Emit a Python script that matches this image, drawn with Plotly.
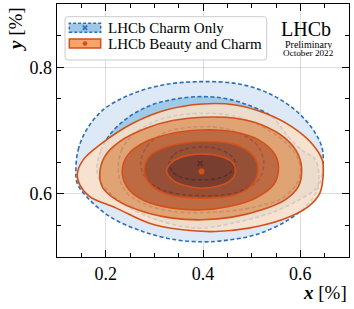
import plotly.graph_objects as go

# ---------------- data (x [%], y [%]) ----------------
# LHCb Charm Only contours (outer -> inner)
b1_x = [0.1388,0.1435,0.1606,0.1945,0.2490,0.3170,0.3986,0.4735,0.5347,0.5891,0.6265,0.6449,0.6469,0.6422,0.6231,0.5755,0.5075,0.4395,0.3986,0.3442,0.2761,0.2082,0.1606,0.1415,0.1388]
b1_y = [0.6378,0.6694,0.7009,0.7325,0.7562,0.7720,0.7773,0.7736,0.7589,0.7325,0.7009,0.6720,0.6483,0.6220,0.5904,0.5588,0.5351,0.5256,0.5240,0.5272,0.5403,0.5640,0.5956,0.6167,0.6378]
b2_x = [0.182,0.190,0.208,0.245,0.293,0.345,0.400,0.450,0.497,0.5415,0.5755,0.605,0.630,0.638,0.634,0.610,0.5475,0.4755,0.400,0.361,0.300,0.2388,0.200,0.185,0.182]
b2_y = [0.643,0.668,0.693,0.720,0.740,0.750,0.7536,0.750,0.739,0.722,0.690,0.668,0.655,0.630,0.610,0.596,0.572,0.556,0.5457,0.548,0.560,0.5825,0.608,0.625,0.643]
b3_x = [0.226,0.232,0.255,0.300,0.350,0.400,0.450,0.500,0.555,0.588,0.600,0.592,0.560,0.5366,0.4755,0.400,0.340,0.285,0.245,0.230,0.226]
b3_y = [0.640,0.668,0.693,0.714,0.724,0.7273,0.725,0.714,0.690,0.665,0.640,0.615,0.592,0.5851,0.5746,0.5703,0.572,0.582,0.600,0.620,0.640]
b4_x = [0.272,0.285,0.320,0.360,0.400,0.440,0.480,0.512,0.525,0.515,0.480,0.440,0.400,0.355,0.310,0.282,0.272]
b4_y = [0.648,0.675,0.696,0.704,0.706,0.704,0.694,0.676,0.650,0.623,0.605,0.598,0.597,0.599,0.608,0.625,0.648]
b5_x = [0.330,0.340,0.365,0.398,0.430,0.455,0.467,0.455,0.430,0.398,0.365,0.340,0.330]
b5_y = [0.648,0.662,0.671,0.674,0.671,0.662,0.648,0.633,0.624,0.622,0.624,0.633,0.648]
charm_best = ([0.394], [0.648])

# LHCb Beauty and Charm contours (outer -> inner)
o1_x = [0.1415,0.1537,0.1878,0.2557,0.3238,0.3986,0.4667,0.5279,0.5823,0.6231,0.6449,0.6469,0.6401,0.6163,0.5619,0.4939,0.4259,0.3578,0.2898,0.2218,0.1673,0.1469,0.1415]
o1_y = [0.6299,0.6536,0.6773,0.7115,0.7325,0.7420,0.7404,0.7273,0.7062,0.6799,0.6536,0.6299,0.6010,0.5798,0.5588,0.5457,0.5403,0.5430,0.5535,0.5773,0.5956,0.6141,0.6299]
o2_x = [0.1878,0.1980,0.2286,0.2830,0.3374,0.3986,0.4667,0.5211,0.5687,0.5959,0.6027,0.5959,0.5687,0.5211,0.4599,0.3986,0.3374,0.2761,0.2218,0.1945,0.1878]
o2_y = [0.6299,0.6588,0.6825,0.7036,0.7157,0.7210,0.7194,0.7088,0.6878,0.6615,0.6351,0.6114,0.5904,0.5746,0.5630,0.5588,0.5614,0.5719,0.5904,0.6088,0.6299]
o3_x = [0.2340,0.2456,0.2830,0.3374,0.3986,0.4599,0.5143,0.5483,0.5551,0.5449,0.5075,0.4531,0.3986,0.3374,0.2830,0.2456,0.2340]
o3_y = [0.6351,0.6615,0.6825,0.6957,0.7009,0.6983,0.6851,0.6615,0.6378,0.6141,0.5930,0.5798,0.5746,0.5773,0.5877,0.6088,0.6351]
o4_x = [0.2796,0.2898,0.3238,0.3986,0.4667,0.5041,0.5129,0.5007,0.4667,0.3986,0.3306,0.2932,0.2796]
o4_y = [0.6351,0.6588,0.6736,0.6825,0.6773,0.6588,0.6378,0.6141,0.5983,0.5930,0.5983,0.6141,0.6351]
o5_x = [0.3251,0.3374,0.3646,0.3986,0.4327,0.4585,0.4667,0.4585,0.4327,0.3986,0.3646,0.3374,0.3251]
o5_y = [0.6362,0.6509,0.6599,0.6630,0.6599,0.6509,0.6362,0.6220,0.6125,0.6088,0.6125,0.6220,0.6362]
beauty_best = ([0.397], [0.635])

x_ticks = [0.2, 0.4, 0.6]
y_ticks = [0.6, 0.8]

# ---------------- styling ----------------
BLUE = "#2a6fba"
ORANGE_LINE = "#d4501a"
FONT = "Liberation Serif"
A = 0.8
band_cols = [f"rgba(254,224,198,{A})", f"rgba(239,152,88,{A})", f"rgba(197,82,26,{A})",
             f"rgba(148,49,11,{A})", f"rgba(110,26,2,{A})"]

fig = go.Figure()

def contour(x, y, **kw):
    fig.add_trace(go.Scatter(x=x, y=y, mode="lines", showlegend=False, hoverinfo="skip", **kw))

contour(b1_x, b1_y, fill="toself", fillcolor="#dde9f6",
        line=dict(color=BLUE, width=1.6, dash="4px,2.5px", shape="spline", smoothing=1))
contour(b2_x, b2_y, fill="toself", fillcolor="#a0cbe7",
        line=dict(color=BLUE, width=1.6, dash="4px,2.5px", shape="spline", smoothing=1))
for bx, by in [(b3_x, b3_y), (b4_x, b4_y), (b5_x, b5_y)]:
    contour(bx, by, line=dict(color=BLUE, width=1.6, dash="4px,2.5px", shape="spline", smoothing=1))
fig.add_trace(go.Scatter(x=charm_best[0], y=charm_best[1], mode="markers", showlegend=False,
                         hoverinfo="skip",
                         marker=dict(symbol="x-thin", size=5, line=dict(color=BLUE, width=1.8))))

orange = [(o5_x, o5_y), (o4_x, o4_y), (o3_x, o3_y), (o2_x, o2_y), (o1_x, o1_y)]
for i, (ox, oy) in enumerate(orange):
    contour(ox, oy, fill="toself" if i == 0 else "tonext", fillcolor=band_cols[4 - i],
            line=dict(color=ORANGE_LINE, width=1.6, shape="spline", smoothing=1))
fig.add_trace(go.Scatter(x=beauty_best[0], y=beauty_best[1], mode="markers", showlegend=False,
                         hoverinfo="skip", marker=dict(symbol="circle", size=6, color=ORANGE_LINE)))

axis_common = dict(showline=True, linecolor="black", linewidth=1.3, mirror="allticks",
                   ticks="inside", ticklen=7, tickwidth=1, tickcolor="black",
                   showgrid=True, gridcolor="rgba(0,0,0,0.13)", gridwidth=1,
                   zeroline=False, layer="above traces",
                   tickfont=dict(family=FONT, size=18, color="black"),
                   minor=dict(ticks="inside", ticklen=4, tickwidth=1, tickcolor="black",
                              dtick=0.05, showgrid=False))
fig.update_xaxes(range=[0.1, 0.7], tickvals=x_ticks, ticktext=[f"{v:.1f}" for v in x_ticks], **axis_common)
fig.update_yaxes(range=[0.5, 0.9], tickvals=y_ticks, ticktext=[f"{v:.1f}" for v in y_ticks], **axis_common)

# ---------------- custom legend ----------------
def px(xp):  # pixel -> paper
    return (xp - 57) / 292
def py(yp):
    return (257 - yp) / 253

x0, x1, y0, y1 = px(65), px(266.7), py(60), py(16.7)
rx, ry = 3 / 292, 3 / 253
path = (f"M {x0+rx},{y0} L {x1-rx},{y0} Q {x1},{y0} {x1},{y0+ry} L {x1},{y1-ry} "
        f"Q {x1},{y1} {x1-rx},{y1} L {x0+rx},{y1} Q {x0},{y1} {x0},{y1-ry} "
        f"L {x0},{y0+ry} Q {x0},{y0} {x0+rx},{y0} Z")
shapes = [dict(type="path", xref="paper", yref="paper", path=path,
               fillcolor="rgba(255,255,255,0.85)", line=dict(color="#cccccc", width=1), layer="above")]
shapes.append(dict(type="rect", xref="paper", yref="paper", x0=px(69.3), x1=px(100.7), y0=py(32.3), y1=py(23.3),
                   fillcolor="#9ec8e6", line=dict(color=BLUE, width=1.5, dash="3px,2px"), layer="above"))
cx, cy = px(85), py(27.8)
dx, dy = 2.2 / 292, 2.2 / 253
shapes += [dict(type="line", xref="paper", yref="paper", x0=cx-dx, x1=cx+dx, y0=cy-dy, y1=cy+dy,
                line=dict(color=BLUE, width=1.6), layer="above"),
           dict(type="line", xref="paper", yref="paper", x0=cx-dx, x1=cx+dx, y0=cy+dy, y1=cy-dy,
                line=dict(color=BLUE, width=1.6), layer="above")]
shapes.append(dict(type="rect", xref="paper", yref="paper", x0=px(69.3), x1=px(100.7), y0=py(48), y1=py(39),
                   fillcolor="#f6a56c", line=dict(color=ORANGE_LINE, width=1.5), layer="above"))
cy2 = py(43.5)
shapes.append(dict(type="circle", xref="paper", yref="paper", x0=cx-2.3/292, x1=cx+2.3/292,
                   y0=cy2-2.3/253, y1=cy2+2.3/253, fillcolor=ORANGE_LINE, line=dict(width=0), layer="above"))

ann = [
    dict(text="LHCb Charm Only", x=px(105.5), y=py(28), xanchor="left", yanchor="middle"),
    dict(text="LHCb Beauty and Charm", x=px(105.5), y=py(44), xanchor="left", yanchor="middle"),
    dict(text="LHCb", x=px(306), y=py(29), xanchor="center", yanchor="middle", borderpad=0, height=18,
         font=dict(family=FONT, size=20, color="black")),
    dict(text="Preliminary", x=px(308), y=py(43.5), xanchor="center", yanchor="middle", borderpad=0, height=10,
         font=dict(family=FONT, size=10, color="black")),
    dict(text="October 2022", x=px(308), y=py(53.5), xanchor="center", yanchor="middle", borderpad=0, height=10,
         font=dict(family=FONT, size=9.2, color="black")),
    dict(text="<b><i>x</i></b> [%]", x=px(349), y=py(292), xanchor="right", yanchor="middle",
         font=dict(family=FONT, size=19, color="black")),
    dict(text="<b><i>y</i></b> [%]", x=px(16), y=py(29), xanchor="center", yanchor="middle", textangle=-90,
         font=dict(family=FONT, size=19, color="black")),
]
annotations = []
for a in ann:
    a.setdefault("font", dict(family=FONT, size=15, color="black"))
    annotations.append(dict(xref="paper", yref="paper", showarrow=False, **a))

fig.update_layout(width=354, height=309, margin=dict(l=57, r=5, t=4, b=52),
                  plot_bgcolor="white", paper_bgcolor="white", showlegend=False,
                  shapes=shapes, annotations=annotations)

fig.write_html("out.html", config={"displayModeBar": False, "staticPlot": True},
               post_script="document.body.style.margin='0';document.body.style.overflow='hidden';")
